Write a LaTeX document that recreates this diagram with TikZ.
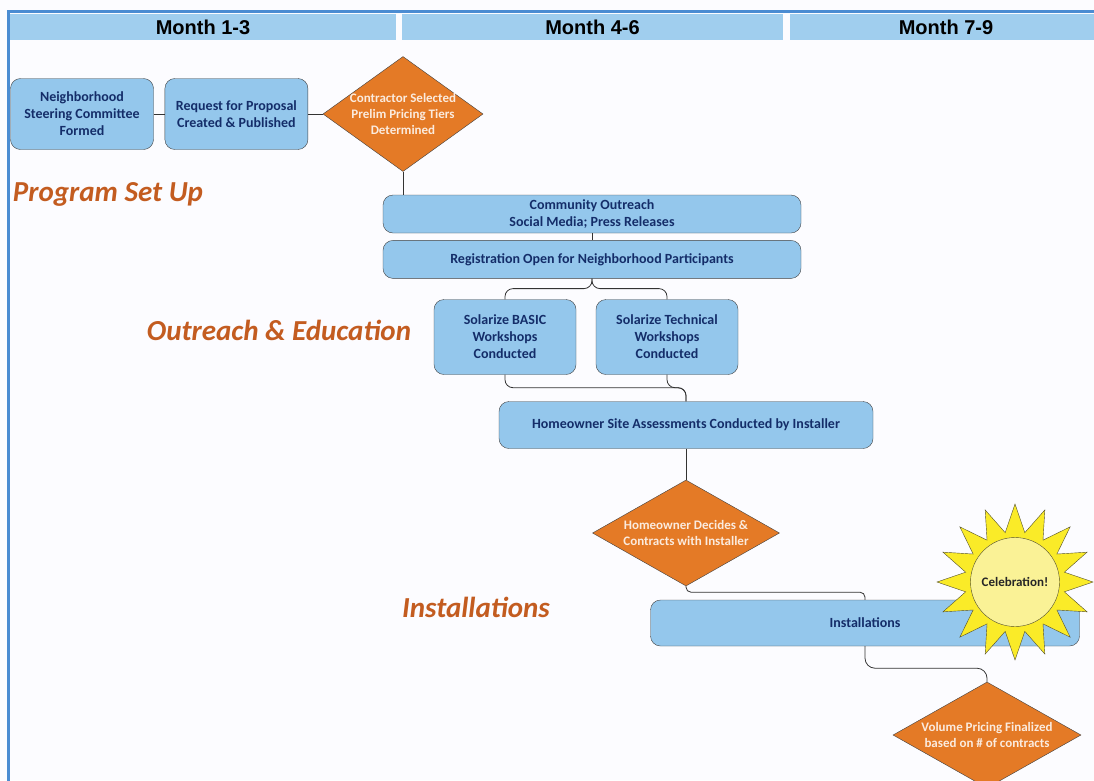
\documentclass[tikz,border=0pt]{standalone}
\usepackage{fontspec}
\setmainfont{Carlito}
\newfontfamily\headfont{Liberation Sans}
\usetikzlibrary{positioning,shapes.geometric}

\definecolor{boxblue}{RGB}{148,199,236}
\definecolor{barblue}{RGB}{160,206,238}
\definecolor{frameblue}{RGB}{75,140,210}
\definecolor{diaorange}{RGB}{228,122,38}
\definecolor{phaseorange}{RGB}{195,92,32}
\definecolor{boxtext}{RGB}{20,45,105}
\definecolor{sunyellow}{RGB}{250,235,40}
\definecolor{sunpale}{RGB}{250,242,150}

\begin{document}
\begin{tikzpicture}[
  x=1pt, y=-1pt,
  stepbox/.style={draw=black!75, fill=boxblue, rounded corners=10pt, align=center, text=boxtext, font=\fontsize{14}{17}\selectfont\bfseries, inner sep=2pt},
  decision/.style={draw=black!75, fill=diaorange, diamond, align=center, text=white!85!diaorange, font=\fontsize{13}{16}\selectfont\bfseries, inner sep=-6pt},
  phase/.style={text=phaseorange, font=\fontsize{29}{32}\selectfont\bfseries\itshape},
  month/.style={fill=barblue, minimum height=26pt, inner sep=0pt, font=\headfont\fontsize{20}{22}\selectfont\bfseries},
  link/.style={draw=black!80, thick}
]
\clip (0,0) rectangle (1094,780);
\fill[white!99!blue] (0,0) rectangle (1094,780);
\draw[frameblue, line width=3pt] (8.5,790) -- (8.5,11) -- (1100,11);

% month headers
\node[month, minimum width=386pt] (m1) at (203,27) {Month 1-3};
\node[month, minimum width=381pt] (m2) at (592.5,27) {Month 4-6};
\node[month, minimum width=312pt] (m3) at (946,27) {Month 7-9};

% program set up
\node[stepbox, minimum width=143pt, minimum height=71pt] (committee) at (82,114) {Neighborhood\\Steering Committee\\Formed};
\node[stepbox, minimum width=143pt, minimum height=71pt, right=11pt of committee] (rfp) {Request for Proposal\\Created \& Published};
\node[decision, aspect=1.39, minimum width=160pt, minimum height=115pt] (contractor) at (403,114) {Contractor Selected\\Prelim Pricing Tiers\\Determined};

% outreach
\node[stepbox, minimum width=418pt, minimum height=38pt] (outreach) at (592,214) {Community Outreach\\Social Media; Press Releases};
\node[stepbox, minimum width=418pt, minimum height=38pt, below=7pt of outreach] (registration) {Registration Open for Neighborhood Participants};
\node[stepbox, minimum width=142pt, minimum height=75pt] (basic) at (505,337) {Solarize BASIC\\Workshops\\Conducted};
\node[stepbox, minimum width=142pt, minimum height=75pt] (technical) at (667,337) {Solarize Technical\\Workshops\\Conducted};
\node[stepbox, minimum width=374pt, minimum height=47pt] (site) at (686,425) {Homeowner Site Assessments Conducted by Installer};

% installations
\node[decision, aspect=1.77, minimum width=187pt, minimum height=106pt] (decides) at (686,533) {Homeowner Decides \&\\Contracts with Installer};
\node[stepbox, minimum width=429pt, minimum height=46pt] (install) at (865,623) {Installations};
\node[decision, aspect=1.77, minimum width=188pt, minimum height=106pt] (volume) at (987,735) {Volume Pricing Finalized\\based on \# of contracts};

% sun
\node[star, star points=16, star point ratio=1.55, minimum size=156pt, inner sep=0pt, draw=black!55!olive, fill=sunyellow] (sun) at (1015,582) {};
\node[circle, draw=black!55!olive, fill=sunpale, minimum size=89pt, inner sep=0pt, text=black!85, font=\fontsize{13}{15}\selectfont\bfseries] (celebration) at (sun) {Celebration!};

% phases
\node[phase] (setup) at (108,194) {Program Set Up};
\node[phase] (education) at (279,330) {Outreach \& Education};
\node[phase] (installphase) at (476,607) {Installations};

% connectors
\draw[link] (committee) -- (rfp);
\draw[link] (rfp) -- (contractor);
\draw[link] (contractor.south) -- (contractor.south |- outreach.north);
\draw[link] (outreach) -- (registration);
\draw[link, rounded corners=8pt] (registration.south) -- ++(0,10) -| (basic.north);
\draw[link, rounded corners=8pt] (registration.south) -- ++(0,10) -| (technical.north);
\draw[link, rounded corners=8pt] (basic.south) -- ++(0,13) -| (site.north);
\draw[link, rounded corners=8pt] (technical.south) -- ++(0,13) -| (site.north);
\draw[link] (site) -- (decides);
\draw[link, rounded corners=5pt] (decides.south) -- ++(0,6) -| (install.north);
\draw[link, rounded corners=10pt] (install.south) -- ++(0,22) -| (volume.north);
\end{tikzpicture}
\end{document}
